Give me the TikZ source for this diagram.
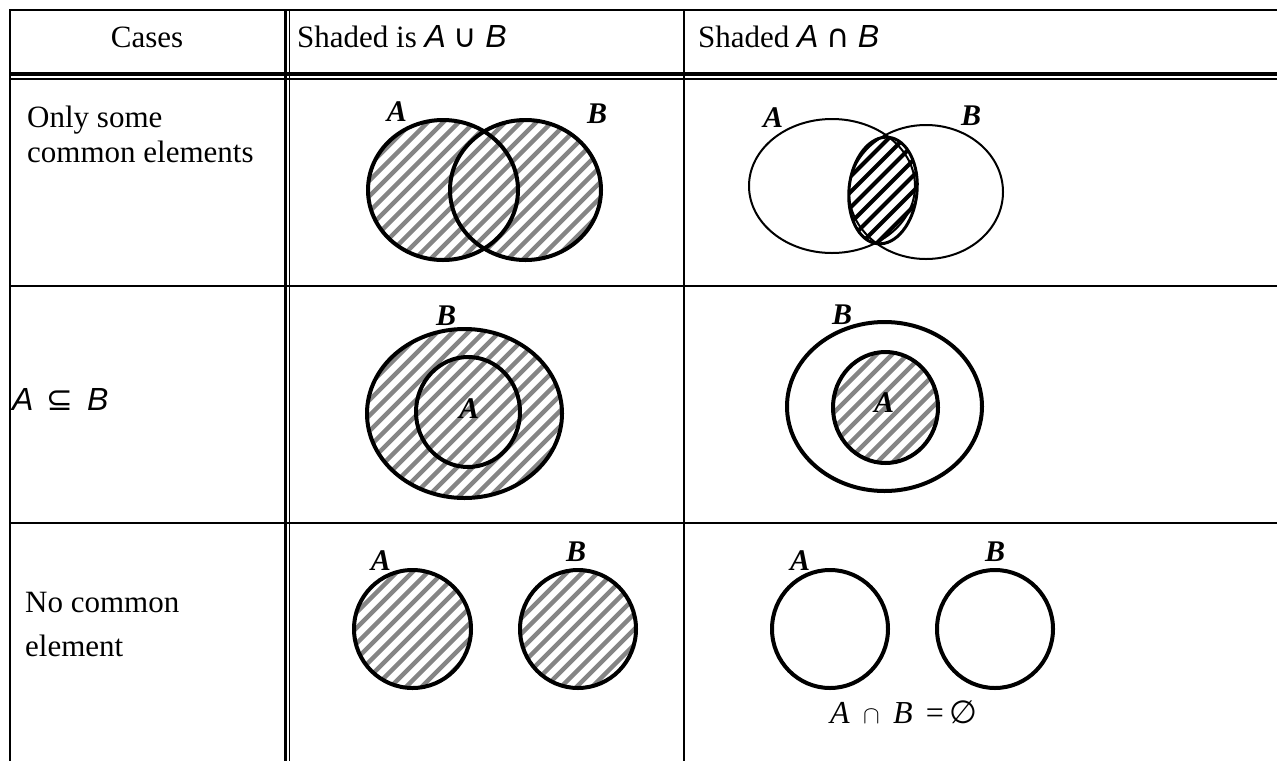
\documentclass[tikz,border=0pt]{standalone}
\usepackage{fontspec}
\setmainfont{Liberation Serif}
\newfontfamily\symfont{DejaVu Sans}
\newfontfamily\lsans{Liberation Sans}
\newcommand{\cmi}[1]{{\lsans\itshape #1}}
\newcommand{\mathbit}[1]{{\fontsize{32}{34}\selectfont #1}}
\newcommand{\hatchfill}[4]{%
  \foreach \k in {-16,...,16} {\draw[#3] ({#1+\k*#4-160},{#2+160}) -- ({#1+\k*#4+160},{#2-160});}%
}
\tikzset{
  gridline/.style={line width=2pt},
  venn/.style={line width=4pt},
  thinvenn/.style={line width=2pt},
  lbl/.style={font=\fontsize{30}{32}\selectfont\bfseries\itshape, inner sep=0pt},
  txt/.style={font=\fontsize{31}{35}\selectfont, inner sep=0pt},
  stripe/.style={line width=4.5pt, black!48},
  dstripe/.style={line width=4pt, black},
}
\begin{document}
\begin{tikzpicture}[x=1pt,y=-1pt]
\useasboundingbox (0,0) rectangle (1277,761);
\fill[white] (0,0) rectangle (1277,761);
% ---- table grid
\draw[gridline] (10,10) -- (1277,10);
\draw[gridline] (10,9) -- (10,761);
\draw[line width=4pt] (10,73.5) -- (1277,73.5);
\draw[gridline] (10,79) -- (1277,79);
\draw[line width=3pt] (285.5,10) -- (285.5,761);
\draw[line width=1.5pt] (289.7,10) -- (289.7,761);
\draw[gridline] (684,10) -- (684,761);
\draw[line width=2.3pt] (10,286) -- (1277,286);
\draw[line width=2.3pt] (10,523) -- (1277,523);
% ---- header texts
\node[txt, anchor=base] (hcases) at (147,47) {Cases};
\node[txt, anchor=base west] (hunion) at (297,47) {Shaded is \mathbit{\cmi{A} {\symfont ∪} \cmi{B}}};
\node[txt, anchor=base west] (hinter) at (698,47) {Shaded \mathbit{\cmi{A} {\symfont ∩} \cmi{B}}};
% ---- row labels
\node[txt, anchor=base west] (r1a) at (27,127) {Only some};
\node[txt, anchor=base west] (r1b) at (27,162) {common elements};
\node[txt, anchor=base west] (r2) at (12,410) {\mathbit{\cmi{A} \,{\symfont ⊆}\, \cmi{B}}};
\node[txt, anchor=base west] (r3a) at (25,612) {No common};
\node[txt, anchor=base west] (r3b) at (25,656) {element};
% ---- row 1 union
\begin{scope}
  \clip (443,190) ellipse [x radius=75, y radius=70] (525.5,190) ellipse [x radius=75.5, y radius=70];
  \hatchfill{484}{190}{stripe}{15.5}
\end{scope}
\draw[venn] (443,190) ellipse [x radius=75, y radius=70];
\draw[venn] (525.5,190) ellipse [x radius=75.5, y radius=70];
\node[lbl] (u1a) at (397,112) {A};
\node[lbl] (u1b) at (597,114) {B};
% ---- row 1 intersection
\draw[thinvenn] (832,186) ellipse [x radius=83, y radius=67];
\draw[thinvenn] (926,192) ellipse [x radius=77, y radius=67];
\begin{scope}
  \clip[rotate around={-6:(883,190.5)}] (883,190.5) ellipse [x radius=34, y radius=53.5];
  \hatchfill{883}{190.5}{dstripe}{15.5}
\end{scope}
\draw[line width=3pt, rotate around={-6:(883,190.5)}] (883,190.5) ellipse [x radius=34, y radius=53.5];
\node[lbl] (i1a) at (773,118) {A};
\node[lbl] (i1b) at (971,116) {B};
% ---- row 2 union
\begin{scope}
  \clip (464.5,413.5) ellipse [x radius=97.5, y radius=84.5];
  \hatchfill{464.5}{413.5}{stripe}{15.5}
\end{scope}
\draw[venn] (464.5,413.5) ellipse [x radius=97.5, y radius=84.5];
\draw[venn] (468,412) ellipse [x radius=52, y radius=55];
\node[lbl] (u2b) at (446,316) {B};
\node[lbl] (u2a) at (469,409) {A};
% ---- row 2 intersection
\draw[venn] (884.5,406.5) ellipse [x radius=97.5, y radius=84.5];
\begin{scope}
  \clip (885.5,407.5) ellipse [x radius=52.5, y radius=55.5];
  \hatchfill{885.5}{407.5}{stripe}{15.5}
\end{scope}
\draw[venn] (885.5,407.5) ellipse [x radius=52.5, y radius=55.5];
\node[lbl] (i2b) at (842,315) {B};
\node[lbl] (i2a) at (884,403) {A};
% ---- row 3 union
\begin{scope}
  \clip (412.5,629) ellipse [x radius=58.5, y radius=59] (578,629) ellipse [x radius=58, y radius=59];
  \hatchfill{495}{629}{stripe}{15.5}
\end{scope}
\draw[venn] (412.5,629) ellipse [x radius=58.5, y radius=59];
\draw[venn] (578,629) ellipse [x radius=58, y radius=59];
\node[lbl] (u3a) at (381,561) {A};
\node[lbl] (u3b) at (576,552) {B};
% ---- row 3 intersection
\draw[venn] (830,629) ellipse [x radius=58, y radius=59];
\draw[venn] (995,629) ellipse [x radius=58, y radius=59];
\node[lbl] (i3a) at (800,561) {A};
\node[lbl] (i3b) at (995,552) {B};
\node[inner sep=0pt, anchor=west, font=\fontsize{32}{34}\selectfont] (empty) at (830,712) {\textit{A}\, $\cap$\, \textit{B} \,=\,{\symfont\fontsize{32}{34}\selectfont ∅}};
\end{tikzpicture}
\end{document}
